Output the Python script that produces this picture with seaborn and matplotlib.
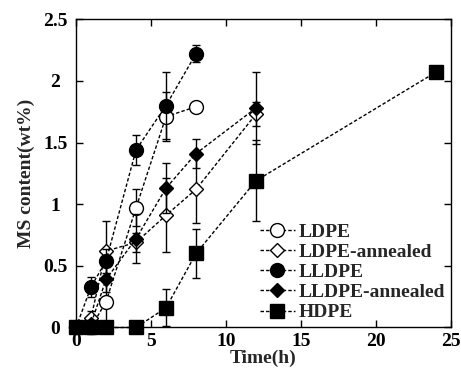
import matplotlib
matplotlib.use("Agg")
import matplotlib.pyplot as plt
import seaborn as sns
from matplotlib.ticker import FormatStrFormatter, MultipleLocator

# time (h) / MS content (wt%) / error
ldpe_t = [0, 1, 2, 4, 6, 8]
ldpe_v = [0, 0.0, 0.21, 0.97, 1.71, 1.79]
ldpe_e = [0, 0.05, 0.2, 0.15, 0.2, 0]

ldpe_ann_t = [0, 1, 2, 4, 6, 8, 12]
ldpe_ann_v = [0, 0.08, 0.62, 0.69, 0.91, 1.12, 1.73]
ldpe_ann_e = [0, 0.05, 0.24, 0.08, 0.3, 0.27, 0.1]

lldpe_t = [0, 1, 2, 4, 6, 8]
lldpe_v = [0, 0.33, 0.54, 1.44, 1.80, 2.22]
lldpe_e = [0, 0.08, 0.1, 0.12, 0.27, 0.07]

lldpe_ann_t = [0, 1, 2, 4, 6, 8, 12]
lldpe_ann_v = [0, 0.03, 0.39, 0.72, 1.13, 1.41, 1.78]
lldpe_ann_e = [0, 0.03, 0.1, 0.2, 0.2, 0.12, 0.29]

hdpe_t = [0, 1, 2, 4, 6, 8, 12, 24]
hdpe_v = [0, 0, 0, 0, 0.16, 0.60, 1.19, 2.07]
hdpe_e = [0, 0, 0, 0, 0.15, 0.2, 0.33, 0]

series = [
    ("LDPE", ldpe_t, ldpe_v, ldpe_e, "o", "white", 10),
    ("LDPE-annealed", ldpe_ann_t, ldpe_ann_v, ldpe_ann_e, "D", "white", 7),
    ("LLDPE", lldpe_t, lldpe_v, lldpe_e, "o", "black", 10),
    ("LLDPE-annealed", lldpe_ann_t, lldpe_ann_v, lldpe_ann_e, "D", "black", 7),
    ("HDPE", hdpe_t, hdpe_v, hdpe_e, "s", "black", 10.5),
]

sns.set_theme(style="ticks")
plt.rcParams["font.family"] = ["Liberation Serif", "DejaVu Serif"]
plt.rcParams["font.weight"] = "bold"

fig = plt.figure(figsize=(4.61, 3.76), dpi=100)
ax = fig.add_axes([0.165, 0.129, 0.813, 0.820])

for i, (name, t, v, e, mk, fc, ms) in enumerate(series):
    ax.errorbar(t, v, yerr=e, fmt="none", ecolor="black", elinewidth=1,
                capsize=3, capthick=1, zorder=2 + i, clip_on=False)
    sns.lineplot(x=t, y=v, ax=ax, sort=False, color="black", lw=1,
                 linestyle=(0, (2.5, 1.5)), marker=mk, markersize=ms,
                 markerfacecolor=fc, markeredgecolor="black",
                 markeredgewidth=1, label=name, zorder=3 + i, clip_on=False)

ax.set_xlim(0, 25)
ax.set_ylim(0, 2.5)
ax.xaxis.set_major_locator(MultipleLocator(5))
ax.yaxis.set_major_locator(MultipleLocator(0.5))
ax.yaxis.set_major_formatter(FormatStrFormatter("%g"))
ax.tick_params(direction="in", length=5, width=1, top=True, right=True,
               labelsize=14, colors="black")
ax.tick_params(axis="y", pad=15)
ax.tick_params(axis="x", pad=4)
for lab in ax.get_xticklabels():
    lab.set_fontweight("bold")
for lab in ax.get_yticklabels():
    lab.set_fontweight("bold")
    lab.set_horizontalalignment("center")
for s in ax.spines.values():
    s.set_linewidth(1)
    s.set_color("black")

ax.set_xlabel("Time(h)", fontsize=14, fontweight="bold", labelpad=0)
ax.set_ylabel("MS content(wt%)", fontsize=14, fontweight="bold", labelpad=6)

ax.legend(loc="lower right", bbox_to_anchor=(0.985, 0.02), frameon=False,
          prop={"weight": "bold", "size": 14}, handlelength=1.8,
          handletextpad=0.2, labelspacing=0.13, borderpad=0, borderaxespad=0)

fig.savefig("out.png", dpi=100)
